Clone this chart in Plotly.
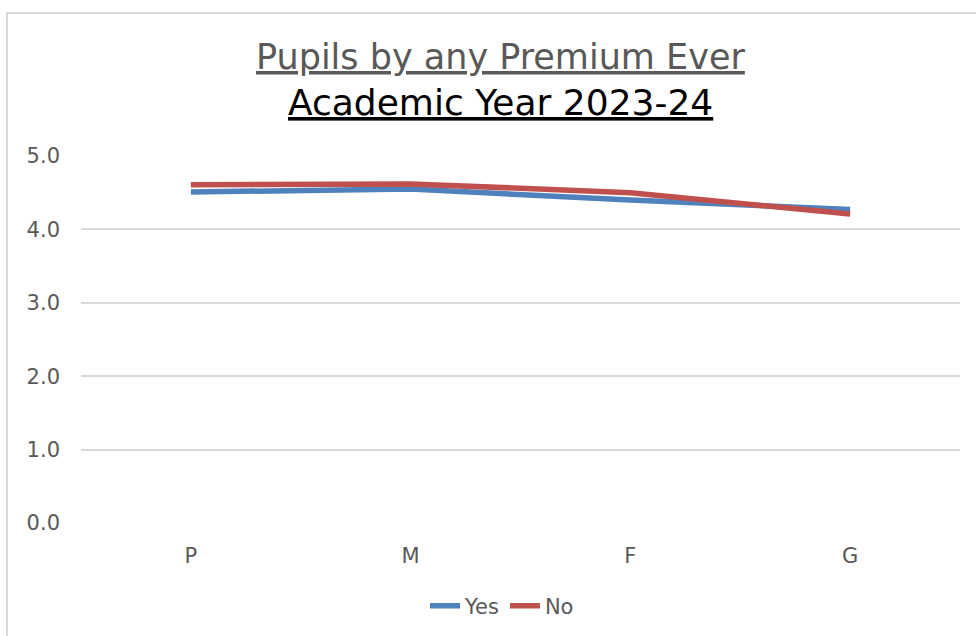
import plotly.graph_objects as go

categories = ["P", "M", "F", "G"]
yes_values = [4.51, 4.55, 4.40, 4.27]
no_values = [4.61, 4.62, 4.50, 4.21]
series_names = ["Yes", "No"]
y_ticks = [0, 1, 2, 3, 4, 5]
y_tick_labels = ["0.0", "1.0", "2.0", "3.0", "4.0", "5.0"]
title_lines = ["Pupils by any Premium Ever", "Academic Year 2023-24"]

FONT = "DejaVu Sans"
GREY = "#595959"

W, H = 976, 636
L, R, T, B = 81, 16, 156, 113
pw, ph = W - L - R, H - T - B

fig = go.Figure()
fig.add_trace(go.Scatter(x=categories, y=yes_values, name=series_names[0], mode="lines",
                         line=dict(color="#4F81BD", width=5.5)))
fig.add_trace(go.Scatter(x=categories, y=no_values, name=series_names[1], mode="lines",
                         line=dict(color="#C0504D", width=5.5)))

def px_x(px):
    return (px - L) / pw

def px_y(py):
    return (H - B - py) / ph

annotations = [
    dict(text="<u>%s</u>" % title_lines[0], xref="paper", yref="paper",
         x=px_x(500), y=px_y(57), xanchor="center", yanchor="middle",
         showarrow=False, font=dict(family=FONT, size=35, color=GREY)),
    dict(text="<u>%s</u>" % title_lines[1], xref="paper", yref="paper",
         x=px_x(500), y=px_y(102), xanchor="center", yanchor="middle",
         showarrow=False, font=dict(family=FONT, size=36, color="#000000")),
]

fig.update_layout(
    width=W, height=H, autosize=False,
    margin=dict(l=L, r=R, t=T, b=B, autoexpand=False),
    paper_bgcolor="white", plot_bgcolor="white",
    font=dict(family=FONT, color=GREY, size=21),
    annotations=annotations,
    xaxis=dict(showgrid=False, showline=False, zeroline=False, ticks="",
               ticklabelstandoff=18, tickfont=dict(size=21, color=GREY),
               range=[-0.5, 3.5], automargin=False),
    yaxis=dict(range=[0, 5], tickvals=y_ticks, ticktext=y_tick_labels,
               showgrid=True, gridcolor="#D9D9D9", gridwidth=2,
               zeroline=False, showline=False, ticks="", automargin=False,
               ticklabelstandoff=20, tickfont=dict(size=21, color=GREY)),
    showlegend=True,
    legend=dict(orientation="h", x=px_x(502), xref="paper", xanchor="center",
                y=px_y(606), yref="paper", yanchor="middle",
                font=dict(size=21, color=GREY), tracegroupgap=0),
    shapes=[dict(type="rect", xref="paper", yref="paper",
                 x0=px_x(7), x1=px_x(W + 20), y0=px_y(H + 20), y1=px_y(13),
                 line=dict(color="#D9D9D9", width=2), layer="below")],
)

fig.write_html("out.html")
